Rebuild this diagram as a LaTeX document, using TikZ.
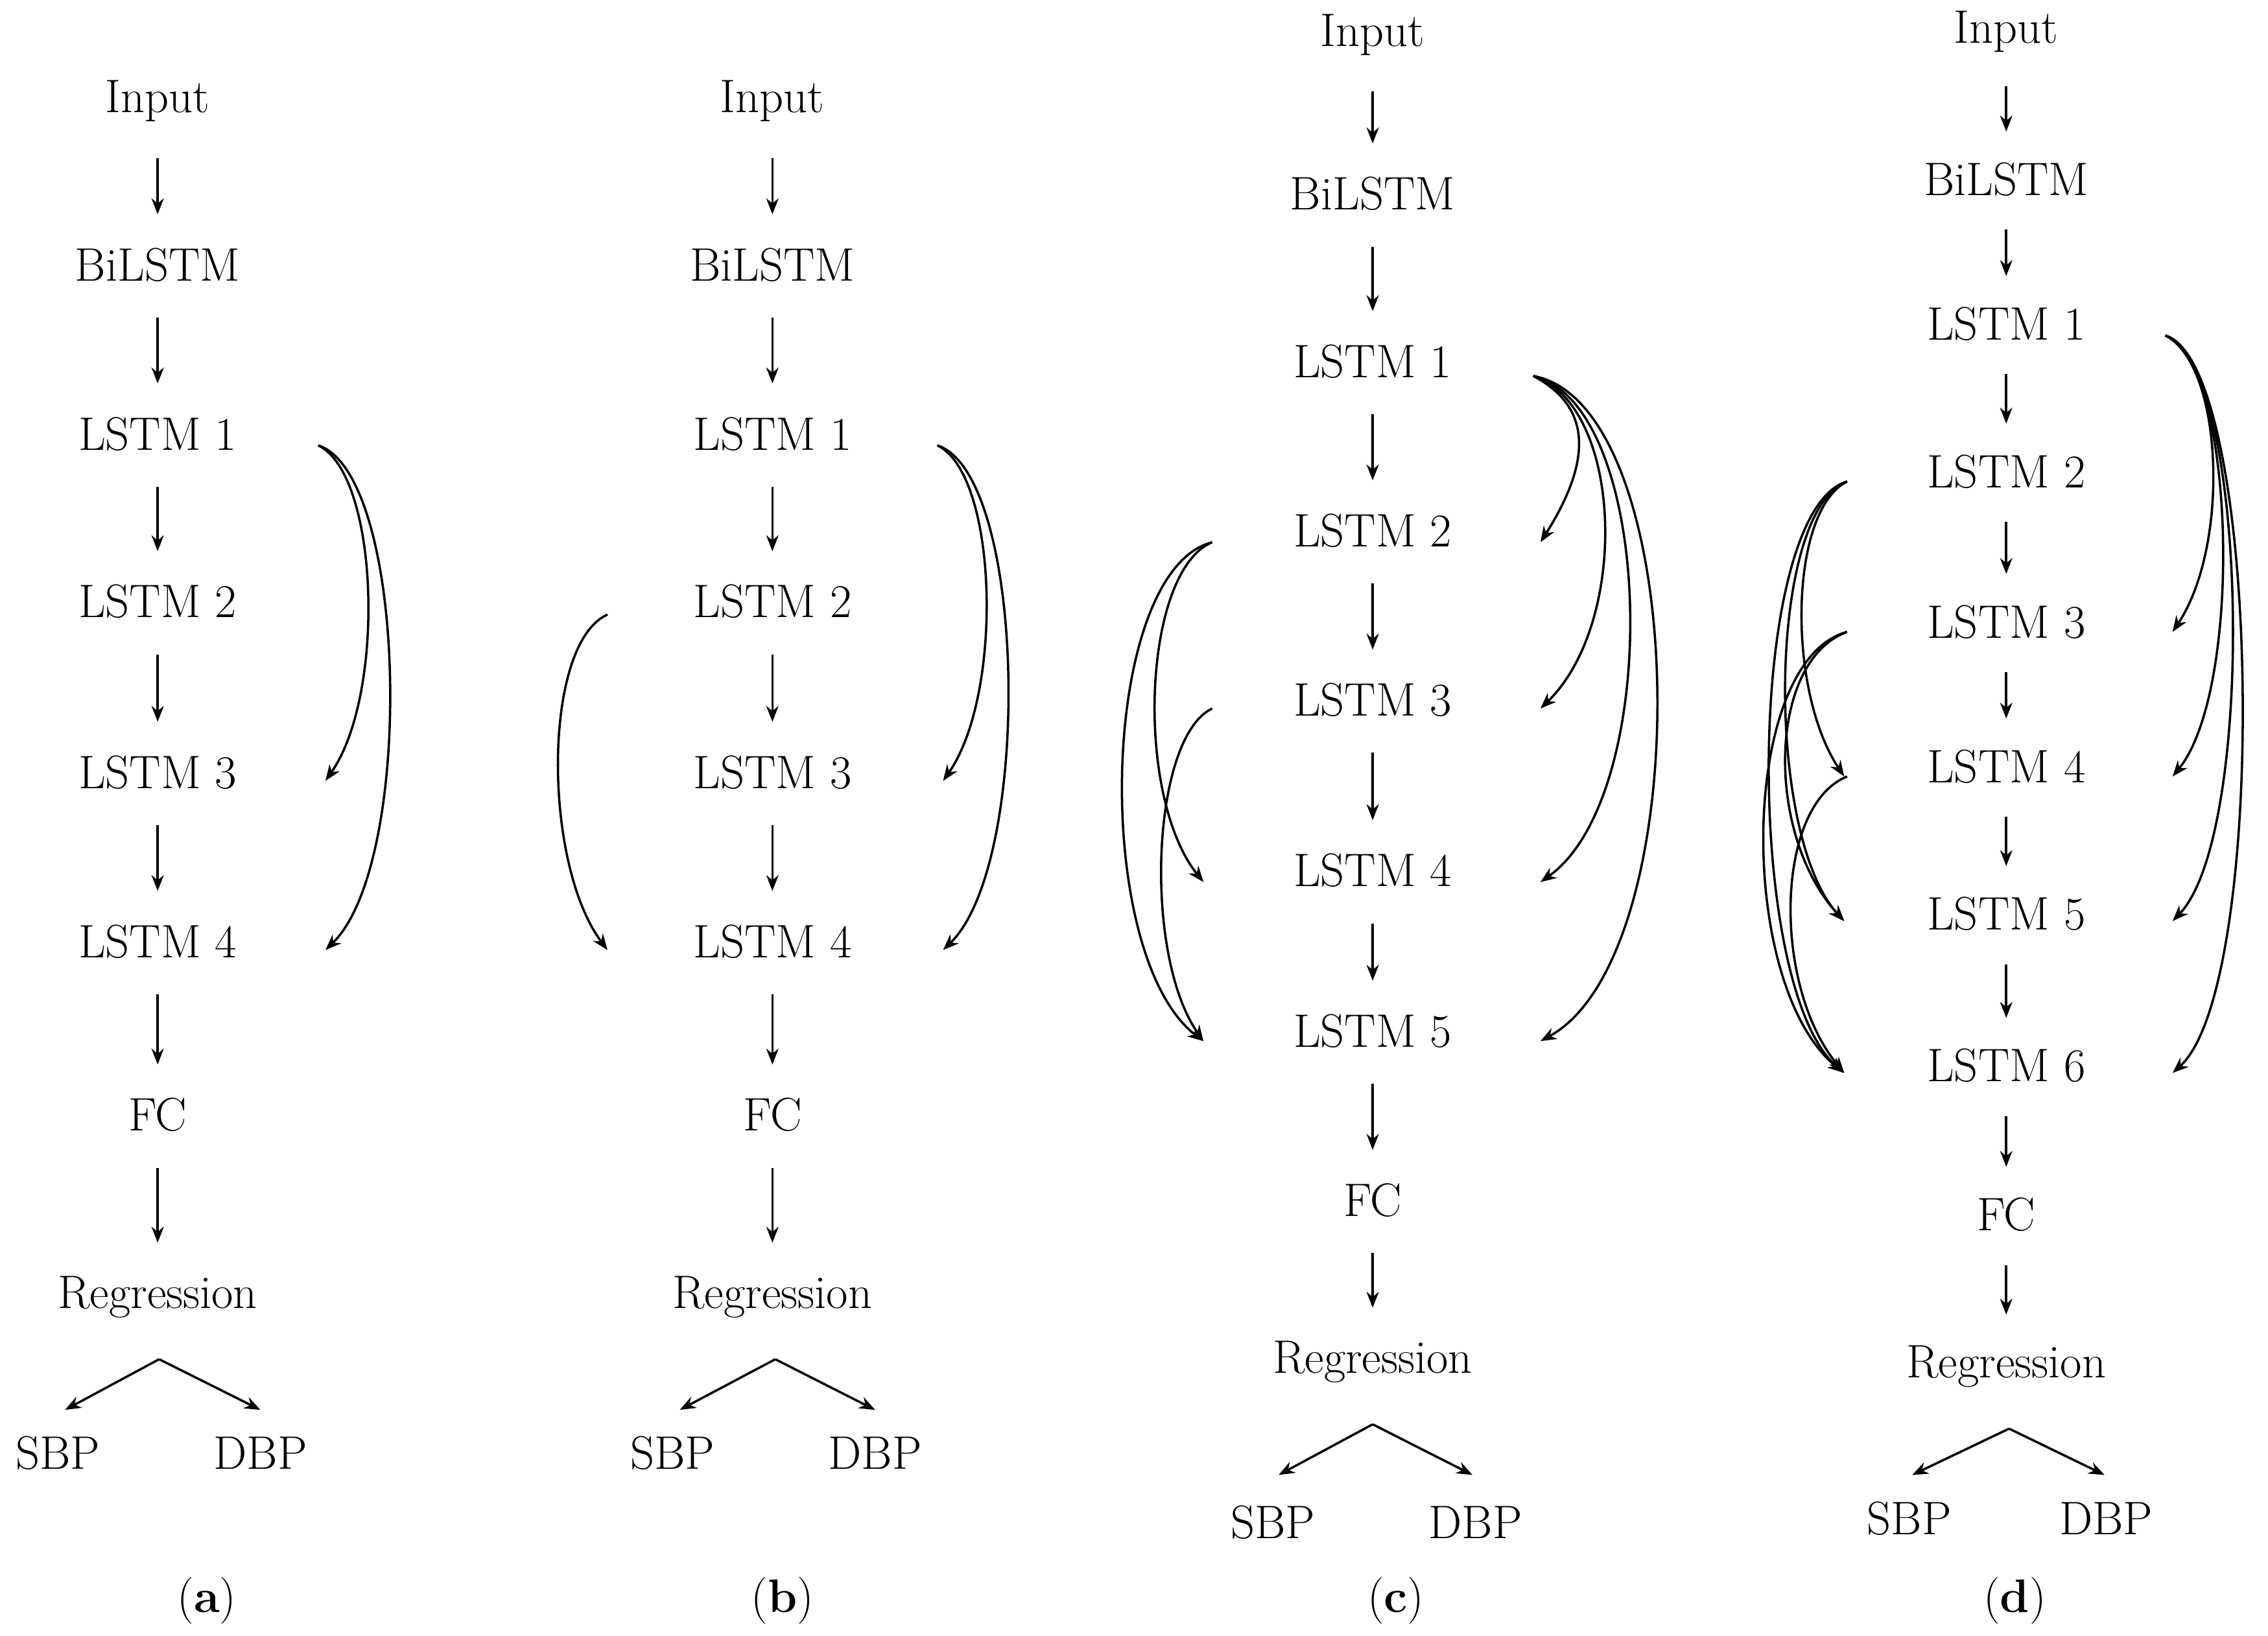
\documentclass[tikz,border=0pt]{standalone}
\usetikzlibrary{arrows.meta}
\begin{document}
\begin{tikzpicture}[x=0.02cm,y=-0.02cm,
  lab/.style={inner sep=0pt,font=\fontsize{18.5}{22}\selectfont},
  arr/.style={-{Stealth[length=2.2mm,width=1.7mm]},line width=0.9pt},
  va/.style={arr,shorten <=14pt,shorten >=13pt}]
\useasboundingbox (0,0) rectangle (1568,1131);
\newcommand{\rarc}[3]{\draw[arr] (#1) .. controls +(#3,20) and +(#3,-60) .. (#2);}
\newcommand{\larc}[3]{\draw[arr] (#1) .. controls +(-#3,20) and +(-#3,-60) .. (#2);}
% ---------- (a)
\foreach \n/\t/\y in {i/Input/70,b/BiLSTM/183,l1/LSTM 1/300,l2/LSTM 2/416,l3/LSTM 3/534,l4/LSTM 4/651,fc/FC/771,r/Regression/897}
  \node[lab] (a\n) at (109,\y) {\t};
\node[lab] (asbp) at (40,1005) {SBP};
\node[lab] (adbp) at (180,1005) {DBP};
\node[lab] (acap) at (143,1107) {(\textbf{a})};
\foreach \p/\q in {i/b,b/l1,l1/l2,l2/l3,l3/l4,l4/fc,fc/r} \draw[va] (a\p) -- (a\q);
\coordinate (aap) at (110,940); \coordinate (as) at (45,975); \coordinate (ad) at (180,975);
\draw[arr] (aap) -- (as); \draw[arr] (aap) -- (ad);
\coordinate (aR1) at (220,308); \coordinate (aR3) at (225,540); \coordinate (aR4) at (225,657);
\rarc{aR1}{aR3}{42} \rarc{aR1}{aR4}{62}
% ---------- (b)
\foreach \n/\t/\y in {i/Input/70,b/BiLSTM/183,l1/LSTM 1/300,l2/LSTM 2/416,l3/LSTM 3/534,l4/LSTM 4/651,fc/FC/771,r/Regression/897}
  \node[lab] (b\n) at (534,\y) {\t};
\node[lab] (bsbp) at (465,1005) {SBP};
\node[lab] (bdbp) at (605,1005) {DBP};
\node[lab] (bcap) at (541,1107) {(\textbf{b})};
\foreach \p/\q in {i/b,b/l1,l1/l2,l2/l3,l3/l4,l4/fc,fc/r} \draw[va] (b\p) -- (b\q);
\coordinate (bap) at (536,940); \coordinate (bs) at (470,975); \coordinate (bd) at (605,975);
\draw[arr] (bap) -- (bs); \draw[arr] (bap) -- (bd);
\coordinate (bR1) at (648,308); \coordinate (bR3) at (652,540); \coordinate (bR4) at (652,657);
\rarc{bR1}{bR3}{42} \rarc{bR1}{bR4}{62}
\coordinate (bL2) at (420,425); \coordinate (bL4) at (420,657);
\larc{bL2}{bL4}{45}
% ---------- (c)
\foreach \n/\t/\y in {i/Input/24,b/BiLSTM/134,l1/LSTM 1/250,l2/LSTM 2/367,l3/LSTM 3/484,l4/LSTM 4/602,l5/LSTM 5/713,fc/FC/830,r/Regression/942}
  \node[lab] (c\n) at (949,\y) {\t};
\node[lab] (csbp) at (880,1053) {SBP};
\node[lab] (cdbp) at (1020,1053) {DBP};
\node[lab] (ccap) at (965,1107) {(\textbf{c})};
\foreach \p/\q in {i/b,b/l1,l1/l2,l2/l3,l3/l4,l4/l5,l5/fc,fc/r} \draw[va] (c\p) -- (c\q);
\coordinate (cap) at (949,985); \coordinate (cs) at (884,1020); \coordinate (cd) at (1018,1020);
\draw[arr] (cap) -- (cs); \draw[arr] (cap) -- (cd);
\coordinate (cR1) at (1060,260);
\coordinate (cR2) at (1065,375); \coordinate (cR3) at (1065,490); \coordinate (cR4) at (1065,610); \coordinate (cR5) at (1065,720);
\rarc{cR1}{cR2}{38} \rarc{cR1}{cR3}{62} \rarc{cR1}{cR4}{85} \rarc{cR1}{cR5}{110}
\coordinate (cL2) at (838,375); \coordinate (cL3) at (838,490);
\coordinate (cL4) at (832,610); \coordinate (cL5) at (832,720);
\larc{cL2}{cL4}{48} \larc{cL2}{cL5}{78} \larc{cL3}{cL5}{42}
% ---------- (d)
\foreach \n/\t/\y in {i/Input/22,b/BiLSTM/124,l1/LSTM 1/224,l2/LSTM 2/326,l3/LSTM 3/430,l4/LSTM 4/530,l5/LSTM 5/632,l6/LSTM 6/737,fc/FC/840,r/Regression/945}
  \node[lab] (d\n) at (1387,\y) {\t};
\node[lab] (dsbp) at (1320,1050) {SBP};
\node[lab] (ddbp) at (1456,1050) {DBP};
\node[lab] (dcap) at (1393,1107) {(\textbf{d})};
\foreach \p/\q in {i/b,b/l1,l1/l2,l2/l3,l3/l4,l4/l5,l5/l6,l6/fc,fc/r} \draw[arr,shorten <=13pt,shorten >=12pt] (d\p) -- (d\q);
\coordinate (dap) at (1389,988); \coordinate (ds) at (1322,1020); \coordinate (dd) at (1455,1020);
\draw[arr] (dap) -- (ds); \draw[arr] (dap) -- (dd);
\coordinate (dR1) at (1497,232);
\coordinate (dR3) at (1502,437); \coordinate (dR4) at (1502,537); \coordinate (dR5) at (1502,637); \coordinate (dR6) at (1502,742);
\rarc{dR1}{dR3}{40} \rarc{dR1}{dR4}{49} \rarc{dR1}{dR5}{58} \rarc{dR1}{dR6}{67}
\coordinate (dL2) at (1277,333); \coordinate (dL3) at (1277,437); \coordinate (dL4) at (1277,537);
\coordinate (dT4) at (1275,537); \coordinate (dT5) at (1275,637); \coordinate (dT6) at (1275,742);
\larc{dL2}{dT4}{40} \larc{dL2}{dT5}{55} \larc{dL2}{dT6}{70}
\larc{dL3}{dT5}{55} \larc{dL3}{dT6}{75}
\larc{dL4}{dT6}{50}
\end{tikzpicture}
\end{document}
